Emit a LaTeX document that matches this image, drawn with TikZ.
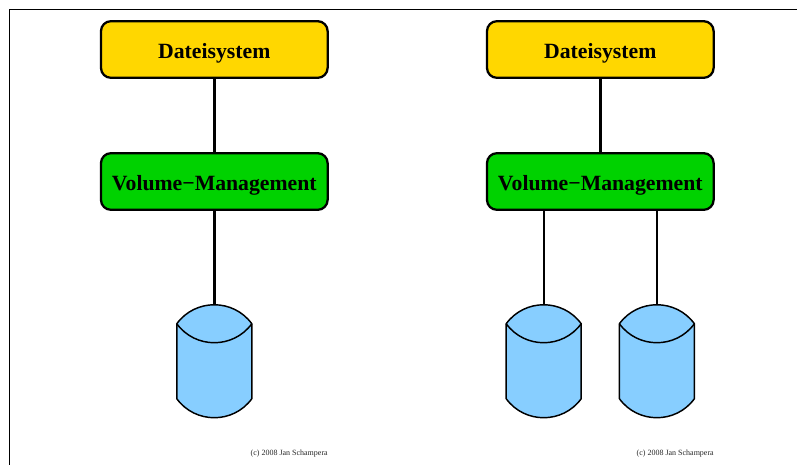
\documentclass[tikz,border=0pt]{standalone}
\usepackage{fontspec}
\setmainfont{Liberation Serif}
\definecolor{boxgold}{RGB}{255,215,0}
\definecolor{boxgreen}{RGB}{0,210,0}
\definecolor{diskblue}{RGB}{135,206,255}
\newcommand{\boxlabel}[1]{\raisebox{-7pt}{#1}}
\tikzset{
  layerbox/.style={draw=black,line width=1.7pt,rounded corners=7.5pt,minimum width=170pt,minimum height=42.5pt,inner sep=0pt,text height=0pt,text depth=0pt,font=\bfseries\fontsize{16.3pt}{18pt}\selectfont,text=black},
  diskslot/.style={minimum width=56.25pt,minimum height=84.75pt,inner sep=0pt},
  wire/.style={line width=1.8pt,black},
  credit/.style={font=\fontsize{6pt}{7pt}\selectfont,text=black!85,inner sep=0pt,anchor=east}
}
\newcommand{\drawdisk}[1]{%
  \begin{scope}[shift={(#1.north)}]
    \draw[fill=diskblue,line width=1.1pt,line join=round]
      (-37.5,19) .. controls (-19,-6.3) and (19,-6.3) .. (37.5,19)
      -- (37.5,94) .. controls (19,119.3) and (-19,119.3) .. (-37.5,94) -- cycle;
    \draw[line width=1.1pt] (-37.5,19) .. controls (-19,44.3) and (19,44.3) .. (37.5,19);
  \end{scope}}
\begin{document}
\begin{tikzpicture}[x=0.75pt,y=-0.75pt]
\useasboundingbox (0,0) rectangle (797,465);
\draw[black,line width=0.75pt] (797,9.5) -- (9.5,9.5) -- (9.5,465);
\node[layerbox,fill=boxgold] (fs1) at (214.3,49.5) {\boxlabel{Dateisystem}};
\node[layerbox,fill=boxgreen] (vm1) at (214.3,181.5) {\boxlabel{Volume−Management}};
\node[diskslot] (d1) at (214.3,361.5) {};
\node[layerbox,fill=boxgold] (fs2) at (600.3,49.5) {\boxlabel{Dateisystem}};
\node[layerbox,fill=boxgreen] (vm2) at (600.3,181.5) {\boxlabel{Volume−Management}};
\node[diskslot] (d2) at (543.7,361.5) {};
\node[diskslot] (d3) at (656.9,361.5) {};
\draw[wire] (fs1) -- (vm1);
\draw[wire] (vm1) -- (d1.north);
\draw[wire] (fs2) -- (vm2);
\draw[wire] (vm2.south -| d2.north) -- (d2.north);
\draw[wire] (vm2.south -| d3.north) -- (d3.north);
\drawdisk{d1}
\drawdisk{d2}
\drawdisk{d3}
\node[credit] (c1) at (328,453.5) {(c) 2008 Jan Schampera};
\node[credit] (c2) at (714,453.5) {(c) 2008 Jan Schampera};
\end{tikzpicture}
\end{document}
